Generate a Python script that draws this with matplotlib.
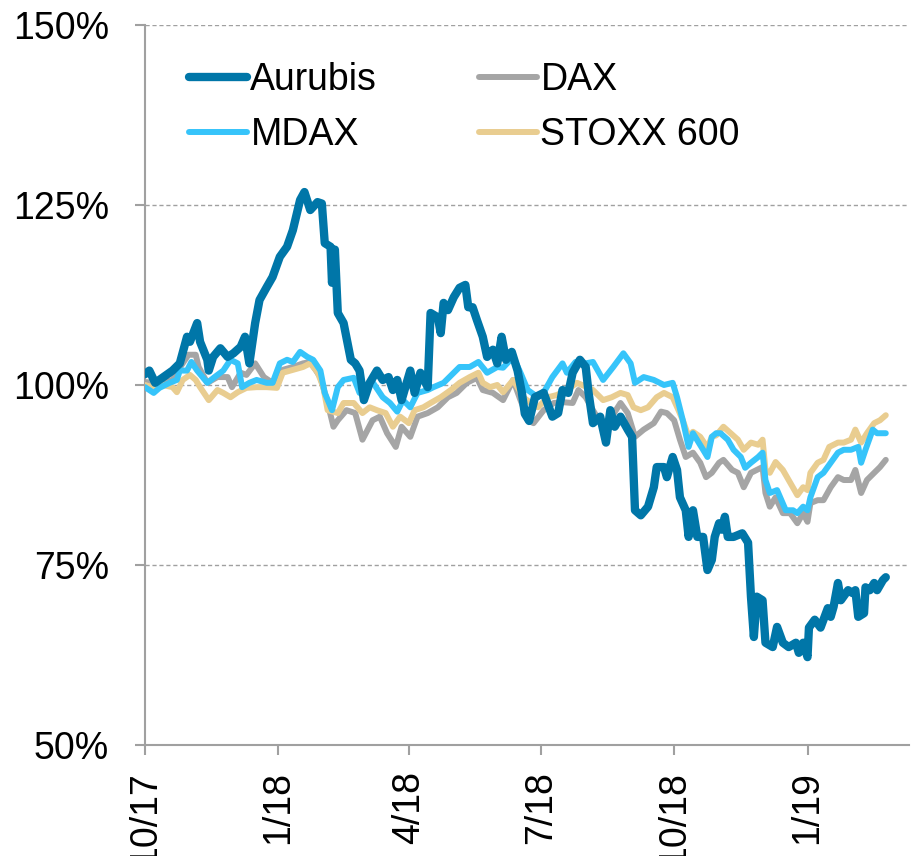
import pandas as pd
from matplotlib import pyplot as plt
from matplotlib import rcParams

# days after 1 Oct 2017, value indexed to 100%
aurubis_days = [0, 3, 7, 12, 19, 24, 29, 31, 36, 38, 43, 44, 47, 52, 57, 61, 66, 69, 72, 76,
                79, 84, 88, 93, 98, 102, 107, 110, 114, 119, 122, 124, 128, 129, 131, 133,
                137, 142, 145, 148, 151, 155, 160, 164, 168, 171, 174, 177, 183, 186, 190,
                195, 197, 202, 204, 206, 209, 213, 217, 221, 223, 226, 229, 233, 236, 240,
                243, 246, 249, 253, 257, 260, 262, 265, 269, 275, 281, 285, 288, 292, 295,
                300, 304, 306, 309, 314, 318, 321, 324, 328, 333, 336, 338, 342, 347, 351,
                353, 358, 360, 364, 367, 369, 373, 375, 378, 381, 385, 388, 391, 393, 396,
                398, 400, 402, 406, 412, 416, 418, 420, 422, 426, 428, 433, 436, 440, 444,
                449, 451, 454, 457, 458, 462, 466, 471, 473, 475, 478, 480, 485, 488, 490,
                492, 496, 497, 500, 503, 505, 509, 511]
aurubis = [101.5, 102, 100.3, 101, 102, 103, 106.7, 106, 108.6, 106, 103.5, 102, 103.9, 105.1,
           103.9, 104.4, 105.3, 106.7, 103, 108.6, 111.8, 113.6, 115, 117.8, 119.2, 121.5,
           125.7, 126.8, 124.3, 125.4, 125.2, 119.7, 119.2, 114.2, 118.8, 110, 108.6, 103.5,
           103, 102, 97.9, 100.3, 102, 100.7, 101.1, 99.3, 100.7, 97.9, 102, 98.9, 101.7,
           99.7, 110, 109.4, 107.2, 111.4, 110.4, 112.2, 113.5, 113.9, 110.8, 110.8, 109,
           106.7, 103.9, 104.9, 103, 106.7, 103.5, 104.6, 102, 98.9, 96, 95, 98.3, 98.9,
           95.6, 96.1, 99.3, 98.9, 101.7, 103.5, 102.5, 98.9, 94.7, 95.6, 92, 96.5, 94.2,
           95.6, 93.8, 92.8, 82.6, 81.9, 83.1, 85.8, 88.6, 88.6, 87.2, 90, 88.2, 84.4, 82.6,
           78.9, 82.6, 78.9, 78.9, 74.3, 75.7, 78.9, 80.8, 79.9, 81.7, 78.9, 78.9, 79.4,
           78.1, 70.6, 65, 70.6, 70.1, 64.2, 63.6, 66.4, 64.2, 63.6, 64.2, 62.8, 64.2, 62.2,
           66.3, 67.4, 66.3, 69, 67.8, 69.2, 72.5, 70.1, 71.5, 71.1, 71.5, 67.8, 68.3, 71.9,
           71.5, 72.5, 71.5, 72.9, 73.3]

dax_days = [0, 10, 19, 24, 30, 35, 37, 43, 50, 57, 60, 66, 70, 76, 82, 88, 95, 102, 109,
            114, 121, 126, 130, 133, 139, 145, 150, 157, 162, 167, 173, 177, 183, 188, 195,
            202, 209, 215, 222, 229, 233, 240, 247, 254, 259, 261, 264, 268, 275, 282, 289,
            295, 299, 304, 309, 316, 322, 328, 333, 338, 344, 351, 356, 360, 365, 369, 373,
            378, 383, 387, 391, 396, 399, 405, 409, 413, 418, 422, 426, 428, 431, 435, 440,
            445, 450, 454, 457, 459, 464, 468, 473, 478, 482, 487, 490, 494, 498, 503, 507, 511]
dax = [100.4, 100.3, 100.7, 102.4, 104.2, 104.2, 102.5, 100.3, 101.1, 101.1, 99.7, 101.7,
       101.4, 103, 101.1, 100.3, 102.1, 102.5, 103, 103.2, 101.1, 97.5, 94.2, 95.1, 96.5,
       96.1, 92.4, 95.1, 95.6, 93.3, 91.4, 94.2, 92.8, 95.6, 96.1, 96.9, 98.3, 98.9, 100.3,
       101, 99.3, 98.9, 97.9, 100.7, 97.9, 96.9, 95.1, 94.7, 96.5, 97.5, 97.6, 97.5, 99.3,
       98.3, 96.5, 94.2, 95.6, 97.5, 96.1, 92.8, 93.8, 94.7, 96.3, 96.1, 95.1, 92.4, 90,
       90.6, 89.2, 87.2, 87.8, 89.2, 89.6, 88.2, 87.8, 85.8, 87.8, 88.2, 88.6, 85, 83.1,
       84.4, 82.2, 82.2, 80.8, 82.2, 81, 83.6, 84, 84, 85.8, 87.2, 86.8, 86.8, 88.2, 85,
       86.8, 87.8, 88.6, 89.6]

mdax_days = [0, 6, 10, 17, 22, 24, 29, 32, 36, 43, 48, 54, 59, 64, 67, 72, 77, 84, 88, 93,
             98, 102, 107, 112, 116, 121, 124, 129, 133, 137, 144, 148, 153, 157, 164, 169,
             174, 178, 183, 188, 195, 199, 206, 213, 217, 224, 230, 236, 243, 247, 254, 259,
             264, 271, 276, 281, 288, 291, 297, 304, 309, 316, 323, 330, 335, 338, 344, 351,
             358, 364, 367, 371, 375, 378, 385, 388, 391, 394, 397, 402, 406, 411, 414, 418,
             423, 426, 428, 431, 436, 442, 447, 450, 454, 457, 459, 464, 468, 473, 478, 482,
             487, 492, 494, 497, 502, 505, 511]
mdax = [99.7, 98.9, 99.6, 100.3, 100.7, 102, 102, 103.2, 102, 100.3, 101.1, 102, 103.5, 103,
        99.7, 100.3, 100.7, 100.3, 100.3, 103, 103.5, 103.2, 104.6, 103.9, 103.5, 102, 98.9,
        96.5, 99.7, 100.7, 101, 98.9, 99.7, 100.4, 98.3, 97.5, 96.3, 97.9, 96.9, 98.9, 99.3,
        99.7, 100.3, 101.7, 102.5, 102.5, 103.2, 101.7, 102.5, 102.4, 103.9, 101.7, 99.3,
        98.3, 99.3, 101.1, 103, 101.7, 103.2, 103, 103.2, 100.7, 102.5, 104.4, 103, 100.3,
        101.1, 100.7, 100, 100.3, 98.3, 95.1, 91.4, 93.3, 91, 90, 92.8, 93.3, 93.3, 92.4,
        91, 90, 88.5, 89.2, 90, 90.6, 86.8, 85, 85.4, 82.6, 82.6, 82.2, 83.1, 82.6, 84.4,
        87.2, 87.8, 89.2, 90.6, 91, 91, 91.4, 89.2, 91, 93.8, 93.3, 93.3]

stoxx_days = [0, 5, 12, 19, 22, 26, 31, 35, 38, 44, 50, 54, 59, 64, 70, 77, 84, 91, 95, 102,
              109, 114, 119, 123, 126, 133, 137, 144, 150, 155, 160, 166, 171, 176, 182, 186,
              192, 197, 204, 211, 217, 224, 230, 233, 238, 243, 247, 254, 259, 261, 266, 271,
              278, 284, 291, 298, 305, 309, 316, 322, 328, 333, 337, 342, 347, 353, 358, 364,
              368, 371, 375, 378, 383, 388, 391, 394, 399, 404, 409, 413, 418, 423, 426, 428,
              431, 435, 440, 444, 450, 454, 457, 459, 464, 468, 472, 478, 482, 487, 490, 494,
              498, 503, 507, 511]
stoxx = [100, 99.7, 100, 99.7, 99, 100.7, 101.4, 100.7, 99.7, 97.9, 99.3, 98.9, 98.3, 99,
         99.6, 99.7, 99.7, 99.6, 101.7, 102.1, 102.5, 103, 101.8, 99.7, 96.5, 96.1, 97.5,
         97.5, 96.1, 96.9, 96.5, 96.1, 94.2, 95.6, 94.7, 96.5, 96.9, 97.5, 98.3, 99.3, 100.3,
         101.1, 101.7, 100.3, 99.7, 100, 99, 100.7, 99, 98.3, 97.5, 96.9, 98.3, 98.6, 99.3,
         100.3, 99.7, 99.3, 97.9, 98.3, 98.9, 98.6, 96.9, 96.5, 96.9, 98.3, 98.9, 98.3, 96.5,
         95.1, 92.8, 93.5, 92.8, 91.3, 92.8, 93, 94.2, 93.3, 92.4, 91, 92, 91.7, 92.4, 88.2,
         87.8, 89.3, 88.2, 86.8, 84.7, 85.8, 85.4, 87.8, 89.2, 89.6, 91.4, 92, 92, 92.4, 93.8,
         92, 93.3, 94.7, 95.1, 95.8]

tick_dates = ['2017-10-01', '2018-01-01', '2018-04-01', '2018-07-01', '2018-10-01', '2019-01-01']
tick_labels = ['10/17', '1/18', '4/18', '7/18', '10/18', '1/19']
y_ticks = [50, 75, 100, 125, 150]

start = pd.Timestamp('2017-10-01')


def to_dates(days):
    return start + pd.to_timedelta(days, unit='D')


rcParams['font.family'] = ['Liberation Sans', 'DejaVu Sans']
rcParams['font.size'] = 27

fig = plt.figure(figsize=(9.13, 8.56), dpi=100)
ax = fig.add_axes([0.1588, 0.1297, 0.8368, 0.8411])

grey = '#a0a0a0'
style = dict(solid_joinstyle='round', solid_capstyle='round')
ax.plot(to_dates(dax_days), dax, color='#a5a5a5', lw=4.3, label='DAX', zorder=2, **style)
ax.plot(to_dates(stoxx_days), stoxx, color='#e9cd90', lw=4.3, label='STOXX 600', zorder=3, **style)
ax.plot(to_dates(mdax_days), mdax, color='#36c4fa', lw=4.3, label='MDAX', zorder=4, **style)
ax.plot(to_dates(aurubis_days), aurubis, color='#0076a8', lw=6, label='Aurubis', zorder=5, **style)

ax.set_ylim(50, 150)
ax.set_yticks(y_ticks)
ax.set_yticklabels(['{}%'.format(v) for v in y_ticks])
ax.set_xlim(start, start + pd.Timedelta(days=527))
ax.set_xticks(pd.to_datetime(tick_dates))
ax.set_xticklabels(tick_labels, rotation=90, va='top', ha='center')

for v in y_ticks[1:]:
    ax.axhline(v, color=grey, lw=1, ls=(0, (3, 2)), zorder=1)

for s in ['top', 'right']:
    ax.spines[s].set_visible(False)
for s in ['left', 'bottom']:
    ax.spines[s].set_color(grey)
    ax.spines[s].set_linewidth(1.5)
ax.tick_params(axis='both', color=grey, width=1.5, length=7, direction='out')
ax.tick_params(axis='y', pad=19)
ax.tick_params(axis='x', pad=12)

# column-first fill: Aurubis, MDAX | DAX, STOXX 600
handles, labels = ax.get_legend_handles_labels()
order = [3, 2, 0, 1]
leg = ax.legend([handles[i] for i in order], [labels[i] for i in order],
                loc='upper left', bbox_to_anchor=(0.057, 0.948), ncol=2,
                frameon=False, borderpad=0, borderaxespad=0, handlelength=1.55,
                handletextpad=0.1, columnspacing=2.7, labelspacing=0.49)

plt.savefig('out.png', dpi=100)
